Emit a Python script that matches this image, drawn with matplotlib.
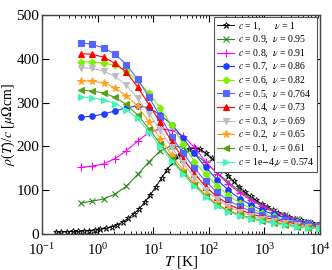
import numpy as np
from matplotlib import pyplot as plt

plt.rcParams['font.family'] = 'serif'
plt.rcParams['font.serif'] = ['Liberation Serif', 'DejaVu Serif']
plt.rcParams['mathtext.fontset'] = 'stix'

# temperatures (K) of the c<1 curves
T = [0.5, 0.8, 1.28, 2.05, 3.28, 5.24, 8.4, 13.4, 21.5, 34.4, 55, 88, 141, 225,
     360, 576, 922, 1475, 2360, 3775, 6040, 9660]

# temperatures of the c=1 curve (denser)
T1 = [0.178, 0.224, 0.282, 0.355, 0.447, 0.562, 0.708, 0.891, 1.12, 1.41,
      1.78, 2.24, 2.82, 3.55, 4.47, 5.62, 7.08, 8.91, 11.2, 14.1,
      17.8, 22.4, 28.2, 35.5, 44.7, 56.2, 70.8, 89.1, 112, 141,
      178, 224, 282, 355, 447, 562, 708, 891, 1122, 1413,
      1778, 2239, 2818, 3548, 4467, 5623, 7079, 8913]
rho_c1 = [5, 5, 5, 6, 6, 7, 8, 9, 11, 13,
          16, 21, 27, 36, 46, 58, 73, 90, 108, 128,
          147, 164, 178, 188, 194, 196, 193, 185, 174, 161,
          147, 133, 120, 107, 96, 86, 77, 69, 62, 55,
          49, 44, 39, 35, 31, 27, 24, 21]

rho_c09 = [71, 75, 80, 91, 109, 136, 165, 190, 202, 198, 184, 163, 140, 118, 98, 80, 65, 53, 43, 34, 27, 21]
rho_c08 = [152, 155, 160, 172, 190, 212, 232, 240, 237, 224, 198, 165, 138, 114, 94, 77, 63, 51, 42, 33, 26, 20]
rho_c07 = [267, 269, 274, 281, 288, 293, 288, 272, 250, 219, 184, 152, 124, 100, 81, 66, 54, 45, 37, 30, 25, 20]
rho_c06 = [393, 393, 391, 385, 372, 349, 322, 287, 248, 206, 165, 136, 110, 88, 71, 58, 48, 40, 33, 27, 22, 18]
rho_c05 = [437, 433, 425, 411, 387, 353, 313, 268, 222, 185, 150, 120, 95, 77, 63, 52, 44, 37, 31, 26, 22, 18]
rho_c04 = [412, 410, 404, 390, 370, 336, 295, 255, 211, 172, 138, 108, 85, 68, 56, 46, 39, 33, 28, 23, 19, 16]
rho_c03 = [380, 378, 372, 360, 340, 310, 275, 237, 198, 162, 129, 101, 79, 63, 51, 42, 35, 29, 24, 20, 17, 14]
rho_c02 = [350, 349, 345, 334, 316, 292, 256, 218, 180, 146, 116, 89, 68, 54, 44, 37, 31, 26, 22, 18, 15, 13]
rho_c01 = [328, 327, 322, 312, 296, 272, 240, 206, 172, 140, 112, 87, 66, 53, 43, 36, 30, 25, 21, 17, 14, 12]
rho_c0 = [313, 311, 306, 298, 284, 264, 233, 200, 167, 137, 110, 85, 64, 51, 42, 35, 29, 24, 20, 17, 14, 12]

labels = [r'$c$ = 1,      $\nu$ = 1',
          r'$c$ = 0.9,  $\nu$ = 0.95',
          r'$c$ = 0.8,  $\nu$ = 0.91',
          r'$c$ = 0.7,  $\nu$ = 0.86',
          r'$c$ = 0.6,  $\nu$ = 0.82',
          r'$c$ = 0.5,  $\nu$ = 0.764',
          r'$c$ = 0.4,  $\nu$ = 0.73',
          r'$c$ = 0.3,  $\nu$ = 0.69',
          r'$c$ = 0.2,  $\nu$ = 0.65',
          r'$c$ = 0.1,  $\nu$ = 0.61',
          r'$c$ = 1e$-$4,$\nu$ = 0.574']

series = [rho_c09, rho_c08, rho_c07, rho_c06, rho_c05, rho_c04, rho_c03, rho_c02, rho_c01, rho_c0]
colors = ['#2a8a1e', '#ff00ff', '#1e3cff', '#7cf000', '#5565ff', '#ff0000',
          '#bdbdbd', '#ffa020', '#5aa010', '#40f5b5']
markers = ['x', '+', 'o', 'D', 's', '^', 'v', '*', '<', '>']
sizes = [4, 6, 4, 3.5, 3.8, 4.2, 4.2, 5.5, 4.2, 4.2]

fig = plt.figure(figsize=(3.32, 2.70), dpi=100)
ax = fig.add_axes([0.1265, 0.1333, 0.8375, 0.811])

ax.plot(T1, rho_c1, color='black', marker='*', mfc='none', mec='black',
        ms=5, mew=0.6, lw=0.7, label=labels[0])
for i in range(len(series)):
    ax.plot(T, series[i], color=colors[i], marker=markers[i], ms=sizes[i],
            mew=0.8, lw=0.8, label=labels[i + 1])

ax.set_xscale('log')
ax.set_xlim(0.1, 1e4)
ax.set_ylim(0, 500)
ax.set_yticks([0, 100, 200, 300, 400, 500])
ax.tick_params(which='both', direction='in', top=True, right=True, labelsize=11)
ax.tick_params(which='major', length=5)
ax.tick_params(which='minor', length=2.5)
ax.tick_params(axis='y', pad=2)
ax.tick_params(axis='x', pad=6, labelsize=10.5)
for s in ax.spines.values():
    s.set_color('#444444')
    s.set_linewidth(1.0)

ax.set_xlabel(r'$T$ [K]', fontsize=11, labelpad=-3)
ax.set_ylabel(r'$\rho$($T$)/$c$ [$\mu\Omega$cm]', fontsize=10)
ax.yaxis.set_label_coords(-0.09, 0.5)

leg = ax.legend(loc='upper right', bbox_to_anchor=(0.99, 0.99), borderaxespad=0,
                fontsize=7, labelspacing=0.12, handlelength=1.8, handletextpad=0.4,
                borderpad=0.3, fancybox=False, framealpha=1)
leg.get_frame().set_edgecolor('#555555')
leg.get_frame().set_linewidth(0.8)

plt.savefig('out.png', dpi=100)
